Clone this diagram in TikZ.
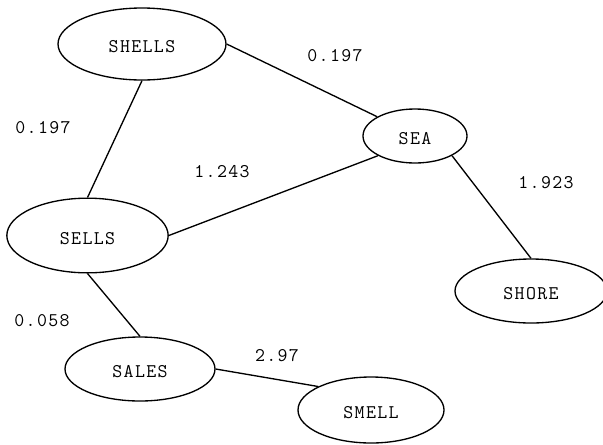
\documentclass[tikz,border=0pt]{standalone}
\usepackage{fontspec}
\setmonofont{Latin Modern Mono}[LetterSpace=7]
\usetikzlibrary{shapes.geometric}
\begin{document}
\begin{tikzpicture}[x=0.75pt,y=-0.75pt,
  lbl/.style={font=\ttfamily\fontsize{14.5}{17}\selectfont},
  word/.style={ellipse,draw,line width=1pt,inner sep=0pt,lbl,text height=12.75pt,text depth=0pt},
  weight/.style={lbl},
  link/.style={line width=1pt}]
\useasboundingbox (0,0) rectangle (603,444);
% words
\node[word,minimum width=126pt,minimum height=54pt] (shells) at (142,44) {SHELLS};
\node[word,minimum width=78pt,minimum height=40.5pt] (sea) at (415,136) {SEA};
\node[word,minimum width=114pt,minimum height=48pt] (shore) at (531,291) {SHORE};
\node[word,minimum width=121pt,minimum height=56pt] (sells) at (87.5,235.5) {SELLS};
\node[word,minimum width=112.5pt,minimum height=48pt] (sales) at (140,369) {SALES};
\node[word,minimum width=109.5pt,minimum height=49.5pt] (smell) at (371,410) {SMELL};
% links
\draw[link] (shells.east) -- (sea.153);
\draw[link] (shells.south) -- (sells.north);
\draw[link] (sells.east) -- (sea.208);
\draw[link] (sea.332) -- (shore.north);
\draw[link] (sells.south) -- (sales.north);
\draw[link] (sales.east) -- (smell.156);
% weights
\node[weight] (w1) at (335,56) {0.197};
\node[weight] (w2) at (43,128) {0.197};
\node[weight] (w3) at (222,172) {1.243};
\node[weight] (w4) at (546,183) {1.923};
\node[weight] (w5) at (42,321) {0.058};
\node[weight] (w6) at (277,356) {2.97};
\end{tikzpicture}
\end{document}
